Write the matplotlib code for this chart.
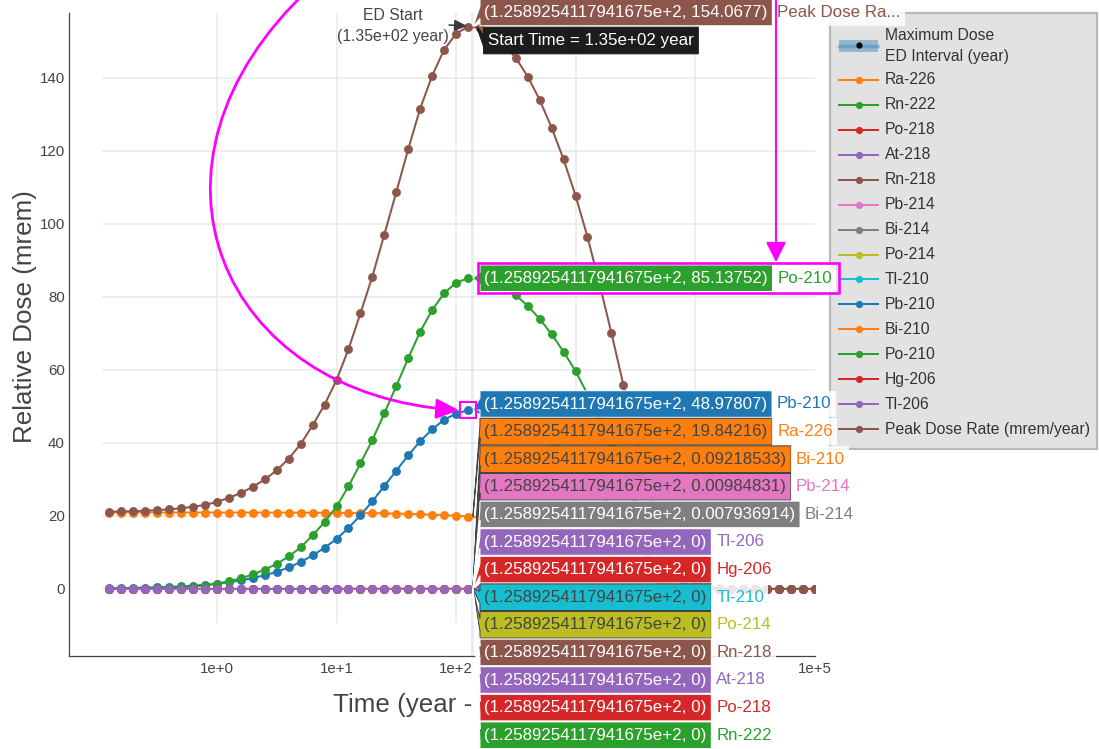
import matplotlib
matplotlib.use("Agg")
import matplotlib.pyplot as plt
from matplotlib.patches import Rectangle, Polygon, FancyArrowPatch, ArrowStyle
from matplotlib.path import Path
from matplotlib.transforms import IdentityTransform
from matplotlib.lines import Line2D
from matplotlib.ticker import NullLocator

plt.rcParams['font.family'] = ['Liberation Sans', 'DejaVu Sans']

# ---------------- data ----------------
times = [0.1259, 0.1585, 0.1995, 0.2512, 0.3162, 0.3981, 0.5012, 0.6310, 0.7943, 1.0,
         1.259, 1.585, 1.995, 2.512, 3.162, 3.981, 5.012, 6.310, 7.943, 10.0,
         12.59, 15.85, 19.95, 25.12, 31.62, 39.81, 50.12, 63.10, 79.43, 100.0,
         125.89254117941675, 158.5, 199.5, 251.2, 316.2, 398.1, 501.2, 631.0, 794.3, 1000.0,
         1259.0, 1585.0, 1995.0, 2512.0, 3162.0, 3981.0, 5012.0, 6310.0, 7943.0, 10000.0,
         12589.0, 15849.0, 19953.0, 25119.0, 31623.0, 39811.0, 50119.0, 63096.0, 79433.0, 100000.0]

ra226 = [20.95, 20.95, 20.95, 20.95, 20.95, 20.95, 20.95, 20.95, 20.95, 20.94,
         20.94, 20.94, 20.94, 20.93, 20.92, 20.91, 20.90, 20.89, 20.88, 20.86,
         20.84, 20.81, 20.77, 20.72, 20.66, 20.59, 20.50, 20.38, 20.23, 20.06,
         19.84216, 19.57, 19.24, 18.82, 18.30, 17.67, 16.89, 15.94, 14.83, 13.54,
         12.12, 10.52, 8.81, 7.04, 5.29, 3.71, 2.37, 1.35, 0.66, 0.27,
         0.088, 0.021, 0.0036, 0.0004, 0.0, 0.0, 0.0, 0.0, 0.0, 0.0]

pb210 = [0.18, 0.23, 0.29, 0.37, 0.46, 0.58, 0.73, 0.92, 1.15, 1.45,
         1.85, 2.35, 3.0, 3.75, 4.7, 5.9, 7.4, 9.2, 11.3, 13.7,
         16.7, 20.2, 24.0, 28.2, 32.4, 36.6, 40.5, 43.7, 46.4, 48.0,
         48.97807, 49.3, 48.9, 47.9, 46.6, 45.0, 43.0, 40.6, 37.8, 34.5,
         30.9, 26.8, 22.5, 17.9, 13.5, 9.46, 6.04, 3.44, 1.68, 0.69,
         0.22, 0.054, 0.009, 0.001, 0.0, 0.0, 0.0, 0.0, 0.0, 0.0]

po210 = [0.03, 0.05, 0.08, 0.13, 0.19, 0.29, 0.44, 0.65, 0.94, 1.45,
         2.15, 2.9, 4.0, 5.3, 6.9, 8.9, 11.4, 14.7, 18.3, 22.6,
         28.1, 34.4, 40.8, 48.1, 55.6, 63.2, 70.5, 76.4, 81.0, 83.9,
         85.13752, 84.8, 84.0, 82.5, 80.5, 77.6, 74.0, 69.8, 65.0, 59.7,
         53.4, 46.3, 38.8, 31.0, 23.3, 16.3, 10.4, 5.94, 2.9, 1.19,
         0.39, 0.092, 0.016, 0.002, 0.0, 0.0, 0.0, 0.0, 0.0, 0.0]

bi210 = [0.0, 0.0, 0.0, 0.0, 0.0002, 0.0003, 0.0005, 0.0007, 0.001, 0.0016,
         0.0023, 0.0031, 0.0043, 0.0057, 0.0075, 0.0096, 0.0123, 0.0159, 0.0198, 0.0245,
         0.0304, 0.0372, 0.0442, 0.0521, 0.0602, 0.0684, 0.0763, 0.0827, 0.0877, 0.0908,
         0.09218533, 0.0918, 0.0909, 0.0893, 0.0872, 0.0840, 0.0801, 0.0756, 0.0704, 0.0646,
         0.0578, 0.0501, 0.0420, 0.0336, 0.0252, 0.0176, 0.0113, 0.0064, 0.0031, 0.0013,
         0.0004, 0.0001, 0.0, 0.0, 0.0, 0.0, 0.0, 0.0, 0.0, 0.0]

pb214 = [0.0104, 0.0104, 0.0104, 0.0104, 0.0104, 0.0104, 0.0104, 0.0104, 0.0104, 0.0104,
         0.0104, 0.0104, 0.0104, 0.0104, 0.0104, 0.0104, 0.0104, 0.0104, 0.0104, 0.0104,
         0.0103, 0.0103, 0.0103, 0.0103, 0.0102, 0.0102, 0.0102, 0.0101, 0.0100, 0.0099,
         0.00984831, 0.0097, 0.0095, 0.0093, 0.0091, 0.0088, 0.0084, 0.0079, 0.0074, 0.0067,
         0.0060, 0.0052, 0.0044, 0.0035, 0.0026, 0.0018, 0.0012, 0.0007, 0.0003, 0.0001,
         0.0, 0.0, 0.0, 0.0, 0.0, 0.0, 0.0, 0.0, 0.0, 0.0]

bi214 = [0.0084, 0.0084, 0.0084, 0.0084, 0.0084, 0.0084, 0.0084, 0.0084, 0.0084, 0.0084,
         0.0084, 0.0084, 0.0084, 0.0084, 0.0084, 0.0084, 0.0084, 0.0084, 0.0084, 0.0084,
         0.0083, 0.0083, 0.0083, 0.0083, 0.0083, 0.0082, 0.0082, 0.0082, 0.0081, 0.0080,
         0.007936914, 0.0078, 0.0077, 0.0075, 0.0073, 0.0071, 0.0068, 0.0064, 0.0059, 0.0054,
         0.0048, 0.0042, 0.0035, 0.0028, 0.0021, 0.0015, 0.0009, 0.0005, 0.0003, 0.0001,
         0.0, 0.0, 0.0, 0.0, 0.0, 0.0, 0.0, 0.0, 0.0, 0.0]

zero_dose = [0.0] * 60
rn222 = zero_dose
po218 = zero_dose
at218 = zero_dose
rn218 = zero_dose
po214 = zero_dose
tl210 = zero_dose
hg206 = zero_dose
tl206 = zero_dose

peak_dose = [21.16, 21.23, 21.32, 21.45, 21.60, 21.82, 22.12, 22.52, 23.04, 23.84,
             25.0, 26.3, 28.0, 30.0, 32.5, 35.7, 39.7, 44.8, 50.5, 57.2,
             65.7, 75.5, 85.6, 97.1, 108.7, 120.5, 131.6, 140.6, 147.7, 152.1,
             154.0677, 153.7, 152.2, 149.3, 145.5, 140.4, 134.0, 126.4, 117.7, 107.8,
             96.5, 83.7, 70.2, 56.0, 42.1, 29.5, 18.8, 10.7, 5.25, 2.15,
             0.70, 0.17, 0.03, 0.003, 0.0, 0.0, 0.0, 0.0, 0.0, 0.0]

series_names = ['Ra-226', 'Rn-222', 'Po-218', 'At-218', 'Rn-218', 'Pb-214', 'Bi-214',
                'Po-214', 'Tl-210', 'Pb-210', 'Bi-210', 'Po-210', 'Hg-206', 'Tl-206',
                'Peak Dose Rate (mrem/year)']
series_colors = ['#ff7f0e', '#2ca02c', '#d62728', '#9467bd', '#8c564b', '#e377c2', '#7f7f7f',
                 '#bcbd22', '#17becf', '#1f77b4', '#ff7f0e', '#2ca02c', '#d62728', '#9467bd',
                 '#8c564b']
series_values = [ra226, rn222, po218, at218, rn218, pb214, bi214, po214, tl210,
                 pb210, bi210, po210, hg206, tl206, peak_dose]

ed_start = 135.0
hover_index = 30
y_ticks = [0, 20, 40, 60, 80, 100, 120, 140]
x_ticks = [1, 10, 100, 1000, 10000, 100000]
# 1e+3 and 1e+4 lie under the hover labels in the reference and are not visible
x_tick_labels = ['1e+0', '1e+1', '1e+2', '', '', '1e+5']
x_title_visible = 'Time (year -'

# ---------------- figure ----------------
W, H = 1099, 749
fig = plt.figure(figsize=(W / 100, H / 100), dpi=100)
fig.patch.set_facecolor('white')
IDT = IdentityTransform()
TXT = '#444444'

ax = fig.add_axes([69 / W, (H - 656) / H, (815 - 69) / W, (656 - 13) / H])
ax.set_xscale('log')
ax.set_xlim(10 ** -1.2385, 10 ** 5.004)
ax.set_ylim(-18.36, 157.8)
for s in ['top', 'right']:
    ax.spines[s].set_visible(False)
for s in ['left', 'bottom']:
    ax.spines[s].set_color('#444444')
    ax.spines[s].set_linewidth(0.9)
ax.set_yticks(y_ticks)
ax.set_xticks(x_ticks)
ax.set_xticklabels(x_tick_labels)
ax.xaxis.set_minor_locator(NullLocator())
ax.tick_params(axis='both', length=0, labelsize=10.8, labelcolor=TXT)
ax.tick_params(axis='y', pad=2.9)
ax.tick_params(axis='x', pad=4.6)

gx0 = 34 / 746
gy0 = 34 / 643
for yv in y_ticks:
    ax.axhline(yv, xmin=gx0, xmax=1, color='#ebebeb', lw=1.2, zorder=0.5)
for xv in x_ticks[:-1]:
    ax.axvline(xv, ymin=gy0, ymax=1, color='#ebebeb', lw=1.2, zorder=0.5)

ax.axvline(ed_start, color='#1f77b4', alpha=0.12, lw=2.0, zorder=0.8)

for name, color, vals in zip(series_names, series_colors, series_values):
    ax.plot(times, vals, '-o', color=color, lw=1.45, ms=6.4, mew=0, zorder=2)

# axis titles
fig.text(25, H - 317, 'Relative Dose (mrem)', rotation=90, ha='center', va='center',
         fontsize=18.7, color=TXT, transform=IDT)
fig.text(333, H - 705, x_title_visible, ha='left', va='center',
         fontsize=18.7, color=TXT, transform=IDT)

renderer = fig.canvas.get_renderer()
HOVER_FS = 12.2
HH = 13.3


def fmt_val(v):
    return '0' if v == 0 else repr(v)


def fmt_time(t):
    m, e = f"{t:.16e}".split('e')
    return f"{m}e{int(e):+d}"


def short_name(n):
    return n if len(n) <= 15 else n[:12] + '...'


def draw_hover(pt, cy_top, text, name, bg, fg, name_color, z, ec=None):
    tip_x, tip_y = pt[0] + 5, pt[1]
    bx = pt[0] + 12
    cy = H - cy_top
    t = fig.text(bx + 4.5, cy, text, transform=IDT, ha='left', va='center',
                 color=fg, fontsize=HOVER_FS, zorder=z + 2)
    w = t.get_window_extent(renderer).width + 9
    verts = [(tip_x, tip_y), (bx, cy - 6), (bx, cy - HH), (bx + w, cy - HH),
             (bx + w, cy + HH), (bx, cy + HH), (bx, cy + 6)]
    fig.add_artist(Polygon(verts, closed=True, fc=bg, ec=ec if ec else fg, lw=0.75,
                           transform=IDT, zorder=z))
    nw = 0
    if name:
        nt = fig.text(bx + w + 5, cy, name, transform=IDT, ha='left', va='center',
                      color=name_color, fontsize=HOVER_FS, zorder=z + 2)
        nw = nt.get_window_extent(renderer).width + 9
        fig.add_artist(Rectangle((bx + w, cy - HH), nw, 2 * HH, fc='white', alpha=0.85,
                                 ec='none', transform=IDT, zorder=z + 1))
    return bx, w, nw


def text_color(c):
    return TXT if c in ('#ff7f0e', '#e377c2', '#bcbd22', '#17becf') else 'white'


def disp(t, v):
    return ax.transData.transform((t, v))


t_h = times[hover_index]
xs = fmt_time(t_h)

# ---------------- legend (drawn manually, plotly style) ----------------
fig.add_artist(Rectangle((830, H - 449), 267, 436, fc='#e2e2e2', ec='#b8b8b8', lw=1.6,
                         transform=IDT, zorder=5))
fig.add_artist(Rectangle((839, H - 52), 39, 12, fc='#1f77b4', alpha=0.4, ec='none',
                         transform=IDT, zorder=6))
fig.add_artist(Line2D([839, 878], [H - 46, H - 46], color='#1f77b4', alpha=0.35, lw=2.5,
                      transform=IDT, zorder=6))
fig.add_artist(Line2D([858.5], [H - 45], marker='o', ms=4.5, mew=0, color='black',
                      transform=IDT, zorder=7))
fig.text(885, H - 35, 'Maximum Dose', ha='left', va='center', fontsize=11.3,
         color='#333333', transform=IDT, zorder=7)
fig.text(885, H - 56, 'ED Interval (year)', ha='left', va='center', fontsize=11.3,
         color='#333333', transform=IDT, zorder=7)
for i, (name, color) in enumerate(zip(series_names, series_colors)):
    cy = H - (80 + i * 24.93)
    fig.add_artist(Line2D([839, 878], [cy, cy], color=color, lw=1.45, transform=IDT, zorder=6))
    fig.add_artist(Line2D([858.5], [cy], marker='o', ms=5.2, mew=0, color=color,
                          transform=IDT, zorder=7))
    fig.text(885, cy, name, ha='left', va='center', fontsize=11.3, color='#333333',
             transform=IDT, zorder=7)

# ---------------- ED start annotation ----------------
fig.text(393, H - 15, 'ED Start', ha='center', va='center', fontsize=11.3, color=TXT,
         transform=IDT, zorder=8)
fig.text(393, H - 37, f'({ed_start:.2e} year)', ha='center', va='center', fontsize=11.3,
         color=TXT, transform=IDT, zorder=8)
fig.add_artist(FancyArrowPatch(posA=(449, H - 25), posB=(467, H - 26),
                               arrowstyle=ArrowStyle('-|>', head_length=7.5, head_width=3.4),
                               mutation_scale=1, color='#3a3a3a', lw=1.1, shrinkA=0, shrinkB=0,
                               transform=IDT, zorder=8))

# ---------------- hover labels ----------------
z = 20
peak_idx = series_names.index('Peak Dose Rate (mrem/year)')
p = disp(t_h, peak_dose[hover_index])
draw_hover(p, 12.5, f'({xs}, {fmt_val(peak_dose[hover_index])})', short_name(series_names[peak_idx]),
           '#8c564b', 'white', '#8c564b', z)
z += 4
ped = disp(ed_start, peak_dose[hover_index])
draw_hover(ped, 40.5, f'Start Time = {ed_start:.2e} year', None, '#1c1c1c', 'white', None, z,
           ec='#1c1c1c')
z += 4

po_idx = series_names.index('Po-210')
ppo = disp(t_h, po210[hover_index])
bx, bw, nw = draw_hover(ppo, H - ppo[1], f'({xs}, {fmt_val(po210[hover_index])})', 'Po-210',
                        '#2ca02c', 'white', '#2ca02c', z)
z += 4
po_box = (bx, ppo[1], bw + nw)

stack = [i for i in range(len(series_names)) if i not in (po_idx, peak_idx)]
stack.sort(key=lambda i: (-series_values[i][hover_index], -i))
cy0 = 404.0
for j, i in enumerate(stack):
    v = series_values[i][hover_index]
    c = series_colors[i]
    pt = disp(t_h, v)
    draw_hover(pt, cy0 + j * 27.6, f'({xs}, {fmt_val(v)})', series_names[i], c,
               text_color(c), c, z)
    z += 4

# ---------------- magenta highlights ----------------
MAG = '#ff00ff'
bx, cyd, tw = po_box
fig.add_artist(Rectangle((bx - 2, cyd - 15), tw + 5, 30, fc='none', ec=MAG, lw=1.9,
                         transform=IDT, zorder=200))
ppb = disp(t_h, pb210[hover_index])
fig.add_artist(Rectangle((ppb[0] - 8, ppb[1] - 8), 16, 16, fc='none', ec=MAG, lw=1.5,
                         transform=IDT, zorder=200))
arc = Path([(310, H + 12), (120, H - 165), (220, H - 395), (ppb[0] - 9, ppb[1])],
           [Path.MOVETO, Path.CURVE4, Path.CURVE4, Path.CURVE4])
fig.add_artist(FancyArrowPatch(path=arc, arrowstyle=ArrowStyle('-|>', head_length=13.7, head_width=6.1),
                               mutation_scale=1, color=MAG, lw=2.0, transform=IDT, zorder=200))
vpath = Path([(776, H + 5), (776, cyd + 16)], [Path.MOVETO, Path.LINETO])
fig.add_artist(FancyArrowPatch(path=vpath, arrowstyle=ArrowStyle('-|>', head_length=12.2, head_width=6.1),
                               mutation_scale=1, color=MAG, lw=1.5, transform=IDT, zorder=200))

fig.savefig('out.png', dpi=100, facecolor='white')
